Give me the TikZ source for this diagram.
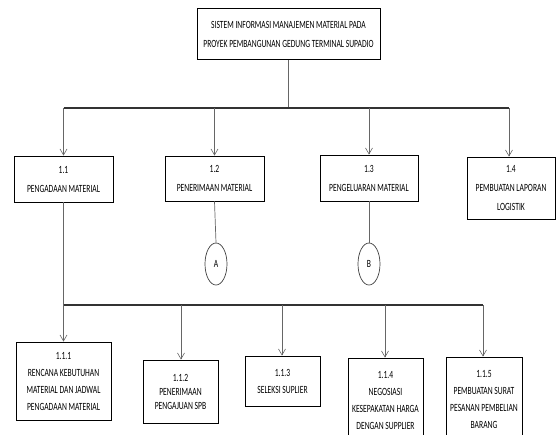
\documentclass[tikz,border=0pt]{standalone}
\usepackage{fontspec}
\setmainfont[FakeStretch=0.69]{Carlito}
\usetikzlibrary{arrows.meta,shapes.geometric}
\begin{document}
\begin{tikzpicture}[x=1pt,y=-1pt,
  box/.style={draw=black,line width=0.9pt,align=center,inner sep=0pt,
    font=\fontsize{11}{17}\selectfont},
  oval/.style={draw=black!75,line width=0.7pt,ellipse,inner sep=0pt,
    font=\fontsize{11}{12}\selectfont},
  link/.style={draw=black!60,line width=0.7pt,-{Straight Barb[length=6pt,width=7pt,line width=0.6pt]}},
  plain/.style={draw=black!60,line width=0.7pt},
  bus/.style={draw=black!80,line width=1.8pt}]
\useasboundingbox (0,0) rectangle (557,434);
\clip (0,0) rectangle (557,434);
\node[box,minimum width=183pt,minimum height=51pt,font=\fontsize{11}{19}\selectfont] (t) at (288.5,34)
  {SISTEM INFORMASI MANAJEMEN MATERIAL PADA\\PROYEK PEMBANGUNAN GEDUNG TERMINAL SUPADIO};
\node[box,minimum width=99pt,minimum height=46pt,font=\fontsize{11}{19}\selectfont] (b11) at (63.5,179) {1.1\\PENGADAAN MATERIAL};
\node[box,minimum width=99pt,minimum height=45pt,font=\fontsize{11}{19}\selectfont] (b12) at (214.5,178.5) {1.2\\PENERIMAAN MATERIAL};
\node[box,minimum width=98pt,minimum height=46pt,font=\fontsize{11}{19}\selectfont] (b13) at (369,178) {1.3\\PENGELUARAN MATERIAL};
\node[box,minimum width=88pt,minimum height=62pt,font=\fontsize{11}{19}\selectfont] (b14) at (511,188) {1.4\\PEMBUATAN LAPORAN\\LOGISTIK};
\node[oval,minimum width=22pt,minimum height=42pt] (A) at (216,264) {A};
\node[oval,minimum width=22pt,minimum height=42pt] (B) at (369,264) {B};
\node[box,minimum width=95pt,minimum height=78pt] (b111) at (63.5,381) {1.1.1\\RENCANA KEBUTUHAN\\MATERIAL DAN JADWAL\\PENGADAAN MATERIAL};
\node[box,minimum width=75pt,minimum height=63pt,font=\fontsize{11}{14}\selectfont] (b112) at (180.5,391.5) {1.1.2\\PENERIMAAN\\PENGAJUAN SPB};
\node[box,minimum width=75pt,minimum height=50pt] (b113) at (282.5,381) {1.1.3\\SELEKSI SUPLIER};
\node[box,minimum width=75pt,minimum height=84pt] (b114) at (385.5,400) {1.1.4\\NEGOSIASI\\KESEPAKATAN HARGA\\DENGAN SUPPLIER};
\node[box,minimum width=76pt,minimum height=85pt] (b115) at (484,399.5) {1.1.5\\PEMBUATAN SURAT\\PESANAN PEMBELIAN\\BARANG};
% top bus
\coordinate (j0) at (t.south |- 0,108);
\coordinate (jl) at (b11.north |- 0,108);
\coordinate (jr) at (509,108);
\draw[plain] (t.south) -- (j0);
\draw[bus] (jl) -- (jr);
\draw[link] (jl) -- (b11.north);
\draw[link] (b12.north |- 0,108) -- (b12.north);
\draw[link] (b13.north |- 0,108) -- (b13.north);
\draw[link] (jr) -- (509,0 |- b14.north);
\draw[plain] (b12.south) -- (A.north);
\draw[plain] (b13.south) -- (B.north);
% bottom bus
\coordinate (kl) at (b11.south |- 0,305);
\coordinate (kr) at (483,305);
\draw[plain] (b11.south) -- (kl);
\draw[bus] (kl) -- (kr);
\draw[link] (kl) -- (b111.north);
\draw[link] (181,305) -- (181,0 |- b112.north);
\draw[link] (282,305) -- (282,0 |- b113.north);
\draw[link] (385,305) -- (385,0 |- b114.north);
\draw[link] (kr) -- (483,0 |- b115.north);
\end{tikzpicture}
\end{document}
